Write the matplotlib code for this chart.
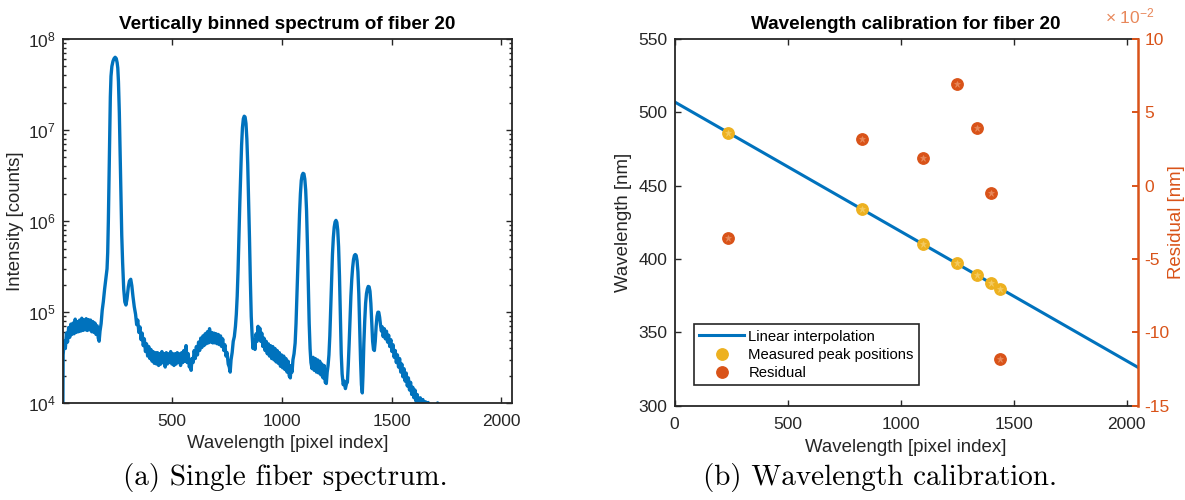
import matplotlib
matplotlib.use("Agg")
import matplotlib.pyplot as plt
from matplotlib.ticker import FixedLocator, FuncFormatter, LogLocator, NullFormatter
from matplotlib.patches import Rectangle
import numpy as np

# ---------------------------------------------------------------------------
# Vertically binned spectrum of fiber 20 (pixel index, counts)
# ---------------------------------------------------------------------------
spectrum_pixel = [
    1, 3, 8, 13, 18, 23, 28, 33, 38, 43, 48, 53, 58, 63, 68, 73, 78, 83, 88, 93,
    98, 103, 108, 113, 118, 123, 128, 133, 138, 143, 148, 153, 158, 163, 167, 171, 176,
    181, 186, 192, 198, 203, 206, 209, 212, 215, 218, 221, 225, 230, 235, 240, 245,
    249, 252, 255, 259, 262, 266, 270, 274, 279, 284, 289, 294, 300, 305, 311, 316,
    321, 327, 333, 338, 343, 348, 353, 358, 363, 368, 373, 378, 383, 388, 393, 398,
    403, 408, 413, 418, 423, 428, 433, 438, 443, 448, 453, 458, 463, 468, 473, 478,
    483, 488, 493, 498, 503, 508, 513, 518, 523, 528, 533, 538, 543, 548, 553, 558,
    563, 568, 573, 578, 583, 586, 590, 595, 600, 605, 610, 615, 620, 625, 630, 635,
    640, 645, 650, 655, 660, 665, 670, 675, 680, 685, 690, 695, 700, 705, 710, 715,
    720, 725, 730, 735, 740, 745, 750, 755, 760, 764, 768, 773, 778, 783, 788, 792,
    796, 800, 804, 808, 812, 816, 820, 824, 828, 832, 836, 840, 844, 848, 852, 856,
    860, 864, 868, 872, 877, 882, 887, 891, 895, 899, 903, 908, 913, 918, 923, 928,
    933, 938, 943, 948, 953, 958, 963, 968, 973, 978, 983, 988, 993, 998, 1003, 1008,
    1013, 1018, 1023, 1028, 1033, 1038, 1042, 1046, 1050, 1055, 1060, 1064, 1068, 1072,
    1076, 1080, 1084, 1088, 1092, 1096, 1100, 1104, 1108, 1112, 1116, 1120, 1124, 1128,
    1132, 1137, 1142, 1147, 1152, 1157, 1162, 1167, 1172, 1177, 1182, 1187, 1192, 1197,
    1202, 1206, 1210, 1214, 1218, 1222, 1226, 1230, 1234, 1238, 1242, 1246, 1250, 1254,
    1258, 1262, 1266, 1270, 1274, 1279, 1284, 1289, 1294, 1298, 1302, 1306, 1310, 1314,
    1318, 1322, 1326, 1330, 1334, 1338, 1342, 1346, 1350, 1354, 1358, 1362, 1366, 1369,
    1373, 1377, 1381, 1385, 1389, 1393, 1397, 1401, 1405, 1409, 1413, 1417, 1421, 1425,
    1429, 1433, 1437, 1441, 1445, 1449, 1453, 1457, 1461, 1466, 1471, 1476, 1481, 1486,
    1491, 1496, 1501, 1506, 1511, 1516, 1521, 1526, 1531, 1536, 1541, 1546, 1551, 1556,
    1561, 1566, 1571, 1576, 1581, 1586, 1591, 1596, 1601, 1606, 1611, 1616, 1621, 1625,
    1630, 1636, 1642, 1648, 1654, 1660, 1666, 1672, 1680, 1690, 1700, 1709, 1712, 1730,
    1760, 1800, 1900, 2048,
]
spectrum_counts = [
    3.0e3, 3.4e4, 4.8e4, 4.0e4, 5.9e4, 4.7e4, 6.8e4, 5.3e4, 7.4e4, 5.7e4, 7.6e4, 5.8e4,
    8.4e4, 6.0e4, 7.9e4, 6.1e4, 8.2e4, 6.2e4, 8.6e4, 6.3e4,
    8.2e4, 6.4e4, 8.5e4, 6.3e4, 8.3e4, 6.4e4, 8.2e4, 6.1e4, 7.9e4, 6.0e4, 7.6e4, 5.7e4,
    7.1e4, 5.2e4, 4.8e4, 6.2e4, 7.5e4,
    1.05e5, 1.3e5, 1.8e5, 2.4e5, 3.0e5, 4.5e5, 1.0e6, 2.8e6, 8.5e6, 2.3e7, 3.9e7, 5.0e7,
    5.7e7, 6.1e7, 6.3e7, 6.1e7,
    5.5e7, 4.8e7, 3.4e7, 1.55e7, 6.5e6, 1.9e6, 7.0e5, 3.5e5, 1.8e5, 1.3e5, 1.2e5, 1.4e5,
    1.9e5, 2.2e5, 2.3e5, 1.95e5,
    1.5e5, 1.15e5, 9.5e4, 7.3e4, 8.2e4, 6.0e4, 6.9e4, 5.0e4, 5.9e4, 4.3e4, 5.1e4, 3.7e4,
    4.5e4, 3.3e4, 4.2e4, 3.1e4,
    3.9e4, 2.9e4, 3.7e4, 2.75e4, 3.6e4, 2.7e4, 3.6e4, 2.6e4, 3.5e4, 2.7e4, 3.7e4, 2.8e4,
    3.5e4, 2.5e4, 3.6e4, 2.7e4,
    3.5e4, 2.8e4, 3.7e4, 2.7e4, 3.5e4, 2.6e4, 3.5e4, 2.7e4, 3.6e4, 2.8e4, 3.5e4, 2.6e4,
    3.6e4, 2.8e4, 3.8e4, 2.9e4,
    4.3e4, 2.8e4, 3.5e4, 2.5e4, 2.9e4, 2.3e4, 3.1e4, 2.8e4, 3.8e4, 3.1e4, 4.2e4, 3.4e4,
    4.7e4, 3.8e4, 5.2e4, 4.1e4,
    5.5e4, 4.3e4, 5.8e4, 4.5e4, 6.1e4, 4.6e4, 6.6e4, 4.7e4, 6.0e4, 4.6e4, 5.9e4, 4.6e4,
    5.8e4, 4.5e4, 5.7e4, 4.4e4,
    5.5e4, 4.2e4, 5.1e4, 3.8e4, 4.4e4, 3.3e4, 3.6e4, 2.7e4, 2.5e4, 2.2e4, 3.0e4, 3.6e4,
    4.8e4, 5.4e4, 7.0e4, 9.5e4,
    1.5e5, 2.9e5, 7.0e5, 1.6e6, 3.4e6, 6.8e6, 1.07e7, 1.33e7, 1.42e7, 1.39e7, 1.18e7,
    8.0e6, 4.2e6, 1.7e6, 6.5e5, 2.2e5,
    9.0e4, 5.6e4, 4.0e4, 5.0e4, 3.9e4, 5.8e4, 4.8e4, 7.0e4, 5.2e4, 6.7e4, 4.8e4, 5.9e4,
    4.2e4, 5.2e4, 3.8e4, 4.8e4,
    3.5e4, 4.5e4, 3.3e4, 4.3e4, 3.1e4, 4.2e4, 3.0e4, 4.0e4, 2.85e4, 3.8e4, 2.75e4, 3.6e4,
    2.55e4, 3.4e4, 2.45e4, 3.3e4,
    2.35e4, 3.1e4, 2.2e4, 2.9e4, 2.0e4, 1.9e4, 2.6e4, 2.2e4, 3.0e4, 3.5e4, 4.6e4, 7.5e4,
    1.5e5, 3.2e5,
    6.5e5, 1.2e6, 2.0e6, 2.8e6, 3.2e6, 3.35e6, 3.3e6, 2.9e6, 2.2e6, 1.3e6, 5.5e5, 2.0e5,
    7.5e4, 4.0e4,
    2.8e4, 2.4e4, 3.2e4, 2.3e4, 3.1e4, 2.2e4, 3.0e4, 2.15e4, 2.9e4, 2.05e4, 2.7e4, 1.9e4,
    2.6e4, 1.7e4,
    1.65e4, 2.2e4, 2.6e4, 3.4e4, 5.5e4, 1.1e5, 2.3e5, 4.3e5, 6.6e5, 8.6e5, 9.8e5, 1.02e6,
    9.7e5, 8.0e5,
    5.2e5, 2.5e5, 9.0e4, 3.5e4, 2.1e4, 1.6e4, 1.75e4, 1.45e4, 1.65e4, 1.7e4, 2.6e4, 4.5e4,
    8.5e4, 1.5e5,
    2.3e5, 3.1e5, 3.8e5, 4.2e5, 4.3e5, 4.2e5, 3.7e5, 2.8e5, 1.6e5, 7.0e4, 3.0e4, 1.6e4,
    1.3e4, 2.0e4,
    4.5e4, 8.0e4, 1.25e5, 1.6e5, 1.8e5, 1.92e5, 1.9e5, 1.7e5, 1.25e5, 7.5e4, 4.8e4, 3.9e4,
    3.8e4, 4.8e4,
    7.0e4, 9.0e4, 1.0e5, 1.0e5, 8.8e4, 7.2e4, 6.2e4, 6.9e4, 5.4e4, 6.6e4, 5.1e4, 6.2e4,
    4.7e4, 5.6e4,
    4.2e4, 5.0e4, 3.7e4, 4.4e4, 3.2e4, 3.8e4, 2.8e4, 3.4e4, 2.5e4, 3.1e4, 2.2e4, 2.7e4,
    1.95e4, 2.4e4,
    1.75e4, 2.15e4, 1.55e4, 1.9e4, 1.4e4, 1.7e4, 1.25e4, 1.5e4, 1.15e4, 1.4e4, 1.05e4,
    1.25e4, 1.0e4, 8.5e3,
    1.15e4, 1.0e4, 1.1e4, 9.6e3, 1.04e4, 9.4e3, 1.02e4, 9.0e3, 8.5e3, 8.0e3, 8.5e3, 1.01e4,
    8.0e3, 7.0e3,
    6.0e3, 5.0e3, 4.0e3, 3.5e3,
]

# ---------------------------------------------------------------------------
# Wavelength calibration of fiber 20 (Balmer lines)
# ---------------------------------------------------------------------------
peak_pixel = [236, 830, 1099, 1249, 1340, 1399, 1439]
peak_wavelength_nm = [486.13, 434.05, 410.17, 397.01, 388.91, 383.54, 379.79]
residual_nm = [-0.036, 0.032, 0.019, 0.069, 0.039, -0.005, -0.118]
fit_pixel_range = [0, 2048]

# ---------------------------------------------------------------------------
# Styling
# ---------------------------------------------------------------------------
BLUE = "#0072BD"
ORANGE = "#D95319"
YELLOW = "#EDB120"
AXCOL = "#262626"
SANS = ["Liberation Sans", "DejaVu Sans"]
TICK_FS = 12.5
LABEL_FS = 13.4
TITLE_FS = 13.6

plt.rcParams.update({
    "font.family": SANS,
    "mathtext.fontset": "custom",
    "mathtext.rm": "Liberation Sans",
    "mathtext.it": "Liberation Sans:italic",
    "axes.unicode_minus": False,
    "axes.edgecolor": AXCOL,
    "axes.labelcolor": AXCOL,
    "xtick.color": AXCOL,
    "ytick.color": AXCOL,
})

W, H = 1185, 500
fig = plt.figure(figsize=(W / 100, H / 100), dpi=100)
fig.patch.set_facecolor("white")


def px_axes(left, top, right, bottom):
    return fig.add_axes([left / W, (H - bottom) / H, (right - left) / W, (bottom - top) / H])


def style_box(ax):
    for sp in ax.spines.values():
        sp.set_linewidth(1.3)
        sp.set_color(AXCOL)
    ax.tick_params(which="both", direction="in", top=True, right=True,
                   labelsize=TICK_FS, width=1.0)
    ax.tick_params(axis="x", pad=8)
    ax.tick_params(axis="y", pad=5)
    ax.tick_params(which="major", length=4.0)
    ax.tick_params(which="minor", length=2.2)


# ---------------------------- (a) spectrum ---------------------------------
ax1 = px_axes(62.7, 39, 512, 403.3)
ax1.plot(spectrum_pixel, spectrum_counts, color=BLUE, lw=2.4, solid_joinstyle="round")
ax1.set_yscale("log")
ax1.set_xlim(1, 2048)
ax1.set_ylim(1e4, 1e8)
ax1.set_xticks([500, 1000, 1500, 2000])
ax1.yaxis.set_major_locator(LogLocator(base=10, numticks=10))
ax1.yaxis.set_minor_locator(LogLocator(base=10, subs=np.arange(2, 10), numticks=20))
ax1.yaxis.set_minor_formatter(NullFormatter())
style_box(ax1)
ax1.set_title("Vertically binned spectrum of fiber 20", fontsize=TITLE_FS,
              fontweight="bold", color="black", pad=7)
ax1.set_xlabel("Wavelength [pixel index]", fontsize=LABEL_FS, labelpad=4)
ax1.set_ylabel("Intensity [counts]", fontsize=LABEL_FS, labelpad=3)

# ---------------------------- (b) calibration ------------------------------
fit_coeff = np.polyfit(peak_pixel, peak_wavelength_nm, 1)
fit_line_nm = np.polyval(fit_coeff, fit_pixel_range)

ax2 = px_axes(674.6, 39, 1137.5, 405.7)
l_fit, = ax2.plot(fit_pixel_range, fit_line_nm, color=BLUE, lw=2.2,
                  label="Linear interpolation")
l_peak, = ax2.plot(peak_pixel, peak_wavelength_nm, "o", color=YELLOW, ms=8.2,
                   mec=YELLOW, label="Measured peak positions")
ax2.plot(peak_pixel, peak_wavelength_nm, "*", color="#F3CB63", ms=5, mew=0.4)
ax2.set_xlim(0, 2048)
ax2.set_ylim(300, 550)
ax2.set_xticks([0, 500, 1000, 1500, 2000])
ax2.set_yticks(range(300, 551, 50))
style_box(ax2)
ax2.tick_params(which="both", right=False)
ax2.spines["right"].set_visible(False)
ax2.set_title("Wavelength calibration for fiber 20", fontsize=TITLE_FS, fontweight="bold",
              color="black", pad=7)
ax2.set_xlabel("Wavelength [pixel index]", fontsize=LABEL_FS, labelpad=5)
ax2.set_ylabel("Wavelength [nm]", fontsize=LABEL_FS, labelpad=5)

ax3 = ax2.twinx()
l_res, = ax3.plot(peak_pixel, residual_nm, "o", color=ORANGE, ms=8.2, mec=ORANGE,
                  label="Residual")
ax3.plot(peak_pixel, residual_nm, "*", color="#E88A5C", ms=5, mew=0.4)
ax3.set_ylim(-0.15, 0.10)
ax3.yaxis.set_major_locator(FixedLocator([-0.15, -0.10, -0.05, 0.0, 0.05, 0.10]))
ax3.yaxis.set_major_formatter(FuncFormatter(lambda v, p: f"{round(v * 100):d}"))
for name, sp in ax3.spines.items():
    sp.set_visible(name == "right")
ax3.spines["right"].set_color(ORANGE)
ax3.spines["right"].set_linewidth(1.8)
ax3.tick_params(axis="y", which="both", direction="in", colors=ORANGE, labelsize=TICK_FS,
                width=1.4, length=4.0, pad=5)
ax3.set_ylabel("Residual [nm]", fontsize=LABEL_FS, color=ORANGE, labelpad=-1)
ax3.text(0.9836, 1.062, r"$\times\ 10^{-2}$", transform=ax3.transAxes, ha="center",
         va="center", color="#E8875A", fontsize=TICK_FS)

leg = ax3.legend(handles=[l_fit, l_peak, l_res], loc="lower left",
                 bbox_to_anchor=(0.042, 0.056), borderaxespad=0, fontsize=10.7,
                 frameon=True, fancybox=False, edgecolor=AXCOL, framealpha=1,
                 handlelength=3.0, handletextpad=0.3, borderpad=0.35, labelspacing=0.28)
leg.get_frame().set_linewidth(1.2)
for t in leg.get_texts():
    t.set_color("black")

# Mask below the plots and the sub-figure captions
fig.patches.append(Rectangle((600 / W, 0), 585 / W, (H - 456) / H, transform=fig.transFigure,
                             facecolor="white", edgecolor="none", zorder=5))
fig.text(285 / W, 1 - 478 / H, "(a) Single fiber spectrum.", family="cmr10", fontsize=21,
         ha="center", va="center", color="black", zorder=6)
fig.text(880 / W, 1 - 478 / H, "(b) Wavelength calibration.", family="cmr10", fontsize=21,
         ha="center", va="center", color="black", zorder=6)

fig.savefig("out.png", dpi=100, facecolor="white")
